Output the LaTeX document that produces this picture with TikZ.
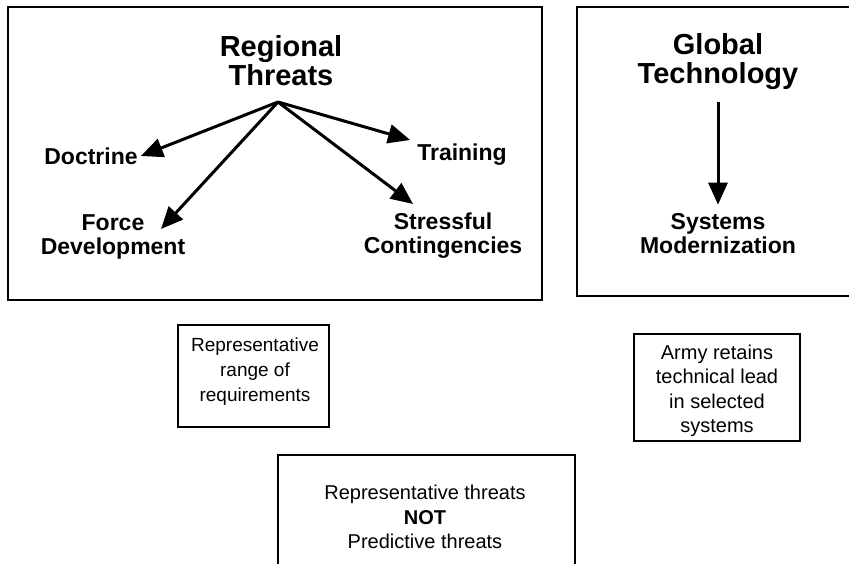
\documentclass[tikz,border=0pt]{standalone}
\usepackage{fontspec}
\setmainfont{Liberation Sans}
\usetikzlibrary{arrows.meta}
\begin{document}
\begin{tikzpicture}[x=1pt,y=-1pt,
  panel/.style={draw=black,line width=2pt},
  heading/.style={font=\bfseries\fontsize{29}{29}\selectfont,align=center,inner sep=0pt},
  leaf/.style={font=\bfseries\fontsize{23}{24}\selectfont,align=center,inner sep=0pt},
  remark/.style={font=\fontsize{20}{24.5}\selectfont,align=center,inner sep=0pt},
  link/.style={line width=3pt,-{Triangle[length=22pt,width=19pt]}}]
\useasboundingbox (0,0) rectangle (849,564);

% outer panels
\draw[panel] (8,7) rectangle (542,300);
\draw[panel] (577,7) rectangle (875,296);

% regional threats panel
\node[heading] (regional) at (281,61) {Regional\\Threats};
\coordinate (hub) at (278,102);
\node[leaf] (doctrine) at (91,156) {Doctrine};
\node[leaf] (force) at (113,237) {Force\\Development};
\node[leaf] (training) at (462,155) {Training};
\node[leaf] (stress) at (443,236) {Stressful\\Contingencies};

\draw[link] (hub) -- ([xshift=3pt]doctrine.east);
\draw[link] (hub) -- ([shift={(48,-8)}]force.center);
\draw[link] (hub) -- ([shift={(-7,-15)}]training.west);
\draw[link] (hub) -- ([shift={(-30,-32)}]stress.center);

% global technology panel
\node[heading] (global) at (718,62) {Global\\Technology};
\coordinate (gsrc) at (718,102);
\node[leaf] (systems) at (718,234) {Systems\\Modernization};
\draw[link] (gsrc) -- ([shift={(0,-9)}]systems.north);

% lower boxes
\draw[panel] (178,325) rectangle (329,427);
\node[remark,font=\fontsize{19}{25}\selectfont] (range) at (255,372) {Representative\\range of\\requirements};

\draw[panel] (634,334) rectangle (800,441);
\node[remark] (army) at (717,391) {Army retains\\technical lead\\in selected\\systems};

\draw[panel] (278,455) rectangle (575,600);
\node[remark] (repr) at (425,517) {Representative threats\\\textbf{NOT}\\Predictive threats};
\end{tikzpicture}
\end{document}
